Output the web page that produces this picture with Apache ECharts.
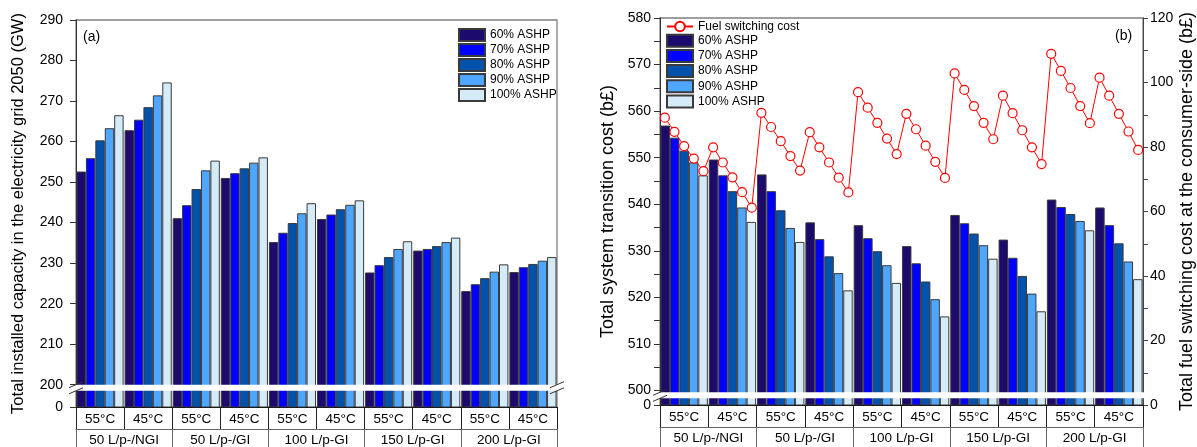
<!DOCTYPE html>
<html><head><meta charset="utf-8">
<script src="https://cdn.jsdelivr.net/npm/echarts@6/dist/echarts.min.js"></script>
<style>html,body{margin:0;padding:0;background:#fff}#c{width:1197px;height:447px}</style>
</head><body><div id="c"></div>
<script>
// ---------- data ----------
const tempLabels = ['55°C','45°C','55°C','45°C','55°C','45°C','55°C','45°C','55°C','45°C'];
const groupLabels = ['50 L/p-/NGI','50 L/p-/GI','100 L/p-GI','150 L/p-GI','200 L/p-GI'];
const seriesNames = ['60% ASHP','70% ASHP','80% ASHP','90% ASHP','100% ASHP'];
const lineName = 'Fuel switching cost';

// (a) Total installed capacity in the electricity grid 2050 (GW)
const cap60  = [252.6, 262.8, 241.1, 251.0, 235.2, 240.9, 227.7, 233.1, 223.1, 227.8];
const cap70  = [255.9, 265.4, 244.3, 252.2, 237.5, 242.0, 229.5, 233.5, 224.8, 229.0];
const cap80  = [260.3, 268.5, 248.3, 253.4, 239.9, 243.3, 231.5, 234.2, 226.3, 229.8];
const cap90  = [263.3, 271.4, 252.9, 254.8, 242.3, 244.4, 233.5, 235.2, 227.9, 230.6];
const cap100 = [266.5, 274.6, 255.3, 256.1, 244.8, 245.5, 235.4, 236.3, 229.7, 231.5];

// (b) Total system transition cost (b£)
const cost60  = [556.9, 549.6, 546.4, 536.1, 535.5, 531.0, 537.7, 532.4, 541.0, 539.3];
const cost70  = [554.3, 546.2, 542.8, 532.5, 532.7, 527.3, 535.9, 528.5, 539.4, 535.5];
const cost80  = [551.5, 542.8, 538.7, 528.8, 529.9, 523.4, 533.7, 524.6, 537.9, 531.6];
const cost90  = [549.0, 539.3, 534.9, 525.2, 526.9, 519.6, 531.2, 520.8, 536.4, 527.7];
const cost100 = [546.2, 536.2, 531.9, 521.5, 523.1, 515.9, 528.3, 517.0, 534.4, 523.9];

// (b) Total fuel switching cost at the consumer-side (b£), one per bar
const fuelSwitchingCost = [
  89.1, 84.7, 80.3, 76.4, 72.5,   79.9, 75.2, 70.6, 66.0, 61.2,
  90.6, 86.2, 81.8, 77.2, 72.7,   84.6, 79.9, 75.2, 70.5, 65.9,
  97.0, 92.2, 87.5, 82.6, 77.8,   90.3, 85.5, 80.4, 75.4, 70.4,
  102.8, 97.7, 92.7, 87.5, 82.4,  95.9, 90.5, 85.2, 79.9, 74.7,
  108.9, 103.6, 98.3, 92.7, 87.4, 101.5, 95.9, 90.3, 84.8, 79.1
];

// tick labels
const capTickLabels  = [0, 200, 210, 220, 230, 240, 250, 260, 270, 280, 290];
const costTickLabels = [0, 500, 510, 520, 530, 540, 550, 560, 570, 580];
const costMinorTicks = [505, 515, 525, 535, 545, 555, 565, 575];

// ---------- axis-break settings (where "0" sits on the broken axes) ----------
const capZeroAt = 194.5, capMax = 290, capBand = [198.5, 200];
const costZeroAt = 496.87, costMax = 580, costBand = [498.3, 499.6];

const FONT = "'Liberation Sans', Arial, Helvetica, sans-serif";
const colors = ['#1c0a6c', '#0000ff', '#0052aa', '#4ea6ff', '#d5ebf8'];
const capData = [cap60, cap70, cap80, cap90, cap100];
const costData = [cost60, cost70, cost80, cost90, cost100];

const capTicks = capTickLabels.map(v => v === 0 ? capZeroAt : v);
const costTicks = costTickLabels.map(v => v === 0 ? costZeroAt : v);
const costAllTicks = costTicks.concat(costMinorTicks).sort((a, b) => a - b);

function barSeries(name, i, data, xi, yi) {
  return {
    type: 'bar', name, xAxisIndex: xi, yAxisIndex: yi, data,
    barGap: '0%', barCategoryGap: '2%',
    itemStyle: { color: colors[i], borderColor: '#3a3a3a', borderWidth: 1 },
    emphasis: { disabled: true }
  };
}

function breakSeries(name, xi, yi, band, slashLeft, slashRight) {
  return {
    type: 'custom', name, xAxisIndex: xi, yAxisIndex: yi, z: 10, silent: true, clip: false,
    data: [[0, band[0], band[1]]],
    renderItem(params, api) {
      const cs = params.coordSys;
      const yLo = api.coord([0, api.value(1)])[1];
      const yHi = api.coord([0, api.value(2)])[1];
      const children = [{
        type: 'rect',
        shape: { x: cs.x - 1, y: yHi, width: cs.width + 2, height: yLo - yHi },
        style: { fill: '#fff' }
      }];
      const slash = (x, y) => ({
        type: 'line',
        shape: { x1: x - 7, y1: y + 3, x2: x + 7, y2: y - 3 },
        style: { stroke: '#333', lineWidth: 1 }
      });
      if (slashLeft) children.push(slash(cs.x, yHi), slash(cs.x, yLo));
      if (slashRight) children.push(slash(cs.x + cs.width, yHi), slash(cs.x + cs.width, yLo));
      return { type: 'group', children };
    }
  };
}

function tempAxis(gi) {
  return {
    type: 'category', gridIndex: gi, data: tempLabels, position: 'bottom',
    axisLine: { lineStyle: { color: '#000', width: 1 } },
    axisTick: { show: true, interval: 0, length: 22, lineStyle: { color: '#222' } },
    axisLabel: { interval: 0, margin: 5, fontSize: 13.5, color: '#000', fontFamily: FONT }
  };
}
function groupAxis(gi) {
  return {
    type: 'category', gridIndex: gi, data: groupLabels, position: 'bottom', offset: 22,
    axisLine: { lineStyle: { color: '#666', width: 1 } },
    axisTick: { show: true, interval: 0, length: 30, lineStyle: { color: '#666' } },
    axisLabel: { interval: 0, margin: 4, fontSize: 13.5, color: '#000', fontFamily: FONT }
  };
}

const barLegendItems = seriesNames.map(n => ({ name: n, icon: 'rect' }));

const option = {
  animation: false,
  backgroundColor: '#fff',
  textStyle: { fontFamily: FONT },
  title: [
    { text: '(a)', left: 83, top: 30, padding: 0, textStyle: { fontSize: 14, fontWeight: 'normal', color: '#000', fontFamily: FONT } },
    { text: '(b)', left: 1115, top: 29, padding: 0, textStyle: { fontSize: 14, fontWeight: 'normal', color: '#000', fontFamily: FONT } }
  ],
  legend: [
    {
      data: barLegendItems, orient: 'vertical', left: 458, top: 28, padding: 0,
      itemWidth: 26, itemHeight: 12, itemGap: 1, selectedMode: false,
      textStyle: { fontSize: 12, color: '#000', fontFamily: FONT, lineHeight: 12 }
    },
    {
      data: [{ name: lineName }].concat(barLegendItems), orient: 'vertical', left: 666, top: 20.5, padding: 0,
      itemWidth: 26, itemHeight: 12, itemGap: 1.2, selectedMode: false,
      textStyle: { fontSize: 12, color: '#000', fontFamily: FONT, lineHeight: 12 }
    }
  ],
  grid: [
    { left: 76, right: 640, top: 20, bottom: 40, show: true, borderColor: '#808080', borderWidth: 1.3, backgroundColor: 'transparent' },
    { left: 660, right: 54, top: 18, bottom: 42, show: true, borderColor: '#808080', borderWidth: 1.3, backgroundColor: 'transparent' }
  ],
  xAxis: [
    tempAxis(0),
    groupAxis(0),
    tempAxis(1),
    groupAxis(1),
    { type: 'category', gridIndex: 1, show: false, data: fuelSwitchingCost.map((_, i) => i), boundaryGap: true }
  ],
  yAxis: [
    {
      type: 'value', gridIndex: 0, min: capZeroAt, max: capMax,
      axisLine: { show: true, lineStyle: { color: '#333' } },
      axisTick: { show: true, length: 6, customValues: capTicks, lineStyle: { color: '#333' } },
      axisLabel: { customValues: capTicks, margin: 13, fontSize: 14, color: '#000', fontFamily: FONT,
        formatter: v => v < 200 ? '0' : String(Math.round(v)) },
      splitLine: { show: false },
      name: 'Total installed capacity in the electricity grid 2050 (GW)',
      nameLocation: 'middle', nameGap: 49, nameRotate: 90,
      nameTextStyle: { fontSize: 16.5, color: '#000', fontFamily: FONT }
    },
    {
      type: 'value', gridIndex: 1, min: costZeroAt, max: costMax,
      axisLine: { show: true, lineStyle: { color: '#333' } },
      axisTick: { show: true, length: 6, customValues: costAllTicks, lineStyle: { color: '#333' } },
      axisLabel: { customValues: costTicks, margin: 9, fontSize: 14, color: '#000', fontFamily: FONT,
        formatter: v => v < 500 ? '0' : String(Math.round(v)) },
      splitLine: { show: false },
      name: 'Total system transition cost (b£)',
      nameLocation: 'middle', nameGap: 43, nameRotate: 90,
      nameTextStyle: { fontSize: 18, color: '#000', fontFamily: FONT }
    },
    {
      type: 'value', gridIndex: 1, position: 'right', min: 0, max: 120, interval: 20,
      axisLine: { show: true, lineStyle: { color: '#444' } },
      axisTick: { show: true, length: 5, lineStyle: { color: '#444' } },
      minorTick: { show: true, splitNumber: 2, length: 5, lineStyle: { color: '#444' } },
      axisLabel: { margin: 7, fontSize: 14, color: '#000', fontFamily: FONT },
      splitLine: { show: false },
      name: 'Total fuel switching cost at the consumer-side (b£)',
      nameLocation: 'middle', nameGap: 35, nameRotate: 90,
      nameTextStyle: { fontSize: 18, color: '#000', fontFamily: FONT }
    }
  ],
  series: [
    ...seriesNames.map((n, i) => barSeries(n, i, capData[i], 0, 0)),
    ...seriesNames.map((n, i) => barSeries(n, i, costData[i], 2, 1)),
    {
      type: 'line', name: lineName, xAxisIndex: 4, yAxisIndex: 2, data: fuelSwitchingCost, z: 5,
      symbol: 'circle', symbolSize: 9, showAllSymbol: true,
      itemStyle: { color: '#fff', borderColor: '#ff0000', borderWidth: 1.2 },
      lineStyle: { color: '#ff0000', width: 1 },
      emphasis: { disabled: true }
    },
    breakSeries('breakA', 0, 0, capBand, true, true),
    breakSeries('breakB', 2, 1, costBand, true, false)
  ]
};

const chart = echarts.init(document.getElementById('c'), null, { renderer: 'canvas' });
chart.setOption(option);
</script>
</body></html>
